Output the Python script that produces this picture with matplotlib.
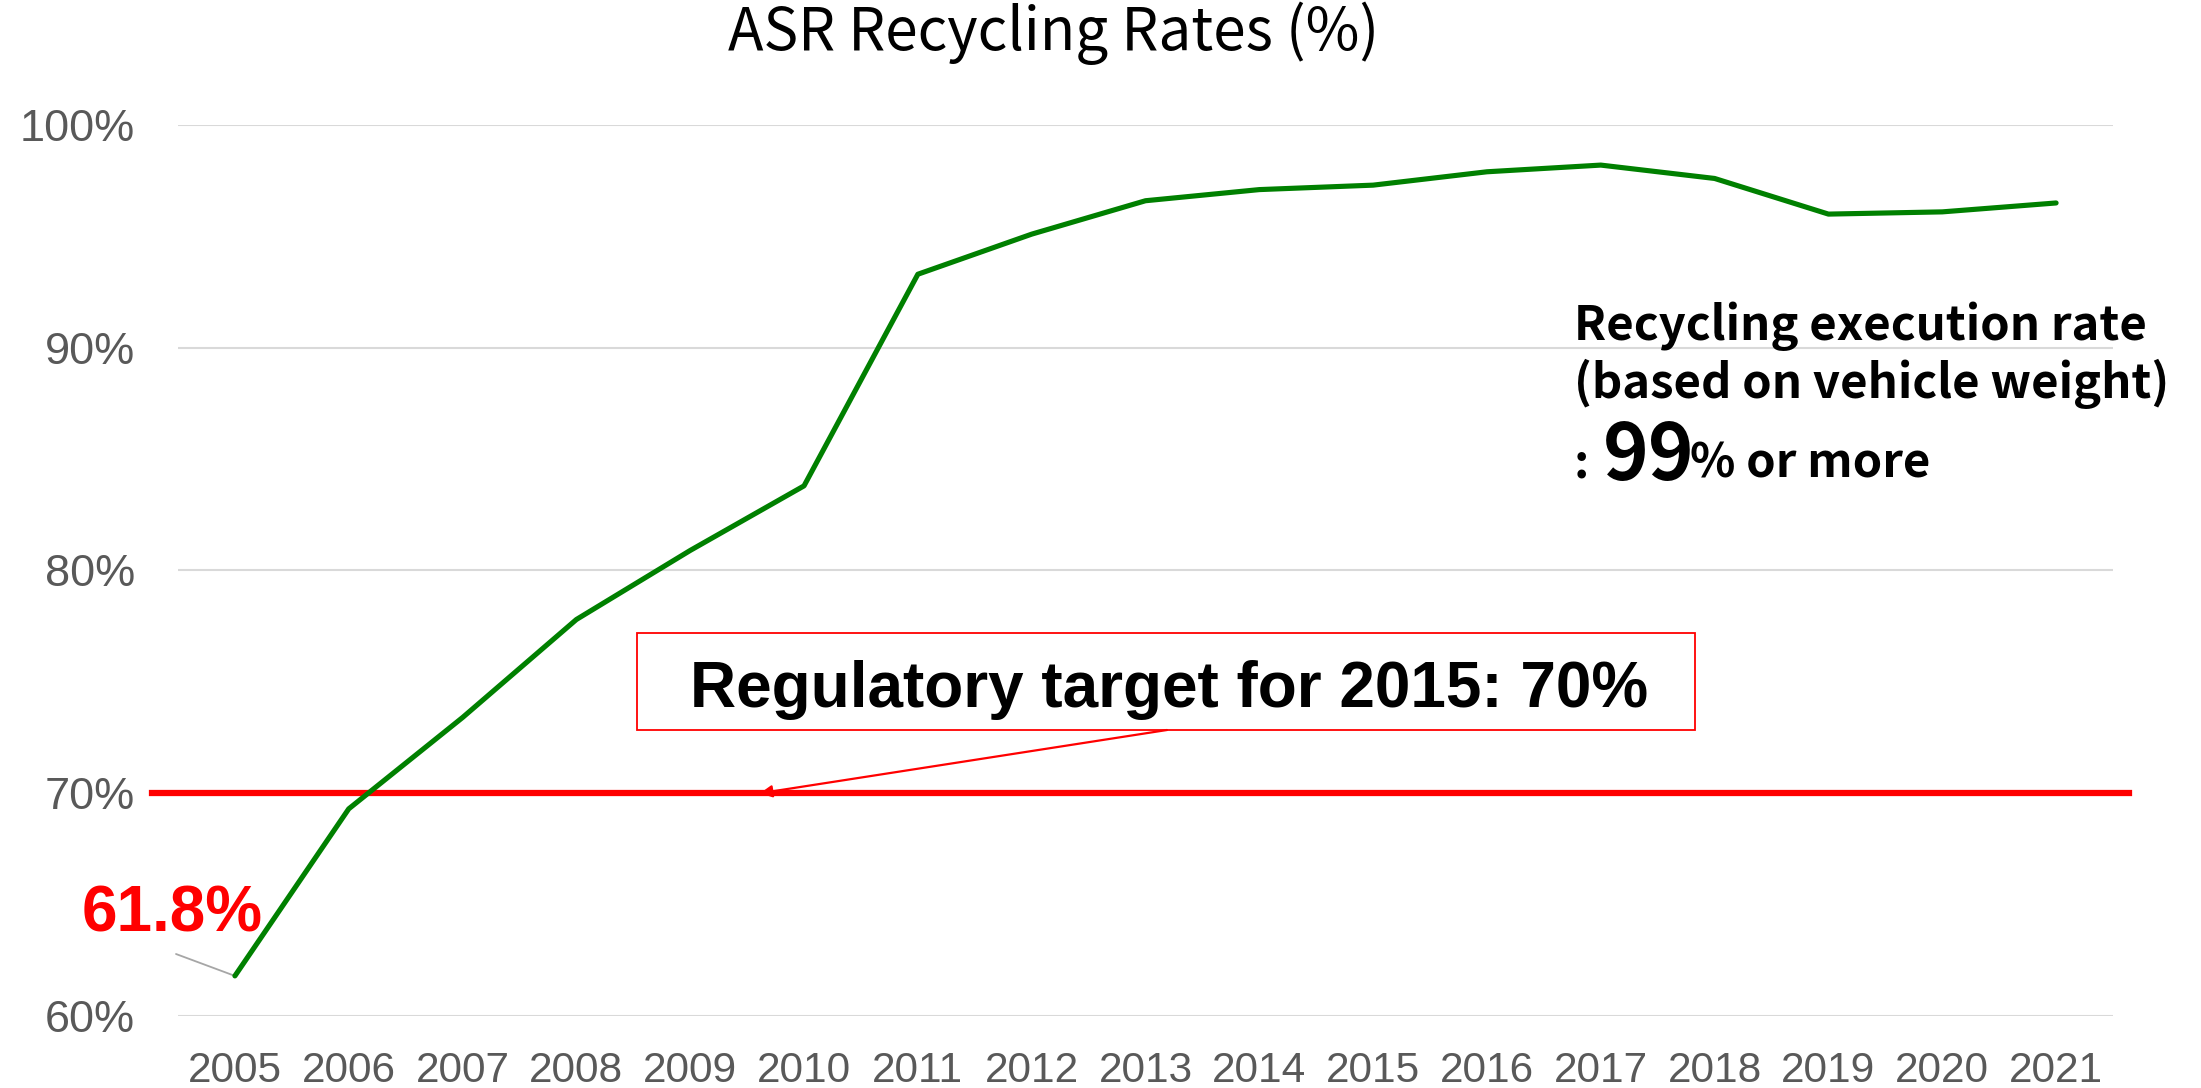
import matplotlib
matplotlib.use("Agg")
import matplotlib.pyplot as plt
from matplotlib.patches import Rectangle

# ---- data ----
years = ["2005", "2006", "2007", "2008", "2009", "2010", "2011", "2012", "2013",
         "2014", "2015", "2016", "2017", "2018", "2019", "2020", "2021"]
rates = [61.8, 69.3, 73.4, 77.8, 80.9, 83.8, 93.3, 95.1, 96.6,
         97.1, 97.3, 97.9, 98.2, 97.6, 96.0, 96.1, 96.5]
target = 70
y_ticks = [60, 70, 80, 90, 100]
title = "ASR Recycling Rates (%)"
target_label = "Regulatory target for 2015: 70%"
note_lines = ["Recycling execution rate", "(based on vehicle weight)"]
note_big = "99"

W, H = 2201, 1088
DPI = 100


def px(x, y):
    return (x / W, 1 - y / H)


fig = plt.figure(figsize=(W / DPI, H / DPI), dpi=DPI)
fig.patch.set_facecolor("white")

ax_l, ax_r, ax_t, ax_b = 178, 2113, 125, 1016
ax = fig.add_axes([ax_l / W, 1 - ax_b / H, (ax_r - ax_l) / W, (ax_b - ax_t) / H])

x = list(range(len(years)))
ax.plot(x, rates, color="#008000", lw=3.7, solid_capstyle="round",
        solid_joinstyle="round", zorder=4, clip_on=False)

ax.set_xlim(-0.5, len(years) - 0.5)
ax.set_ylim(60, 100)
ax.set_yticks(y_ticks)
ax.set_yticklabels([f"{v}%" for v in y_ticks])
ax.set_xticks(x)
ax.set_xticklabels(years)
ax.grid(axis="y", color="#d9d9d9", lw=1.5, zorder=0)
ax.grid(axis="x", visible=False)
for s in ax.spines.values():
    s.set_visible(False)
ax.tick_params(axis="both", length=0, colors="#595959")
ax.tick_params(axis="x", pad=25, labelsize=30.5)
ax.tick_params(axis="y", pad=31, labelsize=32.5)
for lab in ax.get_xticklabels() + ax.get_yticklabels():
    lab.set_fontfamily(["Liberation Sans", "DejaVu Sans"])

# target line (extends slightly beyond plot area)
span = ax_r - ax_l
ax.axhline(target, xmin=-26 / span, xmax=1 + 16 / span, color="#ff0000",
           lw=4.5, clip_on=False, zorder=3)

# title
fig.text(*px(1054, 50), title, ha="center", va="baseline", fontsize=42,
         family=["Noto Sans CJK JP", "DejaVu Sans"], color="black")

# target box
fig.patches.append(Rectangle(px(637, 730), (1695 - 637) / W, (730 - 633) / H,
                             transform=fig.transFigure, fill=False,
                             edgecolor="#ff0000", lw=1.3, zorder=5))
fig.text(*px(1169, 707), target_label, ha="center", va="baseline",
         fontsize=46, fontweight="bold",
         family=["Liberation Sans", "DejaVu Sans"], color="black")
ax.annotate("", xy=((760 - ax_l) / span, target), xycoords=("axes fraction", "data"),
            xytext=px(1167, 730), textcoords="figure fraction",
            arrowprops=dict(arrowstyle="-|>", color="#ff0000", lw=1.6,
                            mutation_scale=18, shrinkA=0, shrinkB=0),
            zorder=6)

# first value label with leader line
fig.text(*px(82, 931), f"{rates[0]}%", ha="left", va="baseline", fontsize=46,
         fontweight="bold", color="#ff0000",
         family=["Liberation Sans", "DejaVu Sans"])
ax.annotate("", xy=(0, rates[0]), xycoords="data",
            xytext=px(176, 954), textcoords="figure fraction",
            arrowprops=dict(arrowstyle="-", color="#a6a6a6", lw=1.3,
                            shrinkA=0, shrinkB=0), zorder=2)

# right note
nfam = ["Noto Sans CJK JP", "DejaVu Sans"]
fig.text(*px(1574, 340), note_lines[0], ha="left", va="baseline", fontsize=34,
         fontweight="bold", family=nfam)
fig.text(*px(1574, 398), note_lines[1], ha="left", va="baseline", fontsize=34,
         fontweight="bold", family=nfam)
fig.text(*px(1574, 477), ":", ha="left", va="baseline", fontsize=34,
         fontweight="bold", family=nfam)
fig.text(*px(1603, 480), note_big, ha="left", va="baseline", fontsize=56,
         fontweight="bold", family=nfam)
fig.text(*px(1690, 477), "% or more", ha="left", va="baseline", fontsize=34,
         fontweight="bold", family=nfam)

fig.savefig("out.png", dpi=DPI, facecolor="white")
